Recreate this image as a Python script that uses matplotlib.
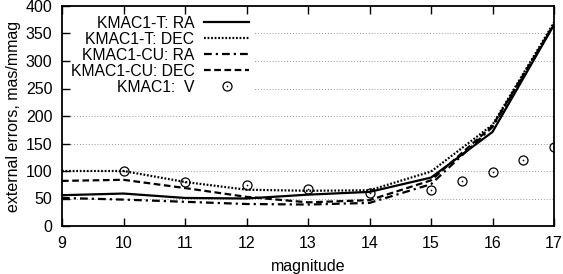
import numpy as np
import matplotlib
matplotlib.use('Agg')
from matplotlib import pyplot as plt
from matplotlib.legend_handler import HandlerTuple
from matplotlib.patches import Rectangle

plt.rcParams['font.family'] = ['Liberation Sans', 'DejaVu Sans']

mag = [9, 10, 11, 12, 13, 14, 15, 16, 17]
t_ra = [56, 59, 51, 50, 57, 62, 88, 171, 366]
t_dec = [100, 100, 80, 66, 64, 65, 99, 184, 370]
cu_ra = [51, 48, 44, 40, 39, 42, 76, 180, 366]
cu_dec = [82, 84, 69, 53, 43, 47, 83, 182, 367]

v_mag = [10, 11, 12, 13, 14, 15, 15.5, 16, 16.5, 17]
v_err = [100, 80, 74, 67, 60, 66, 82, 98, 120, 144]

labels = ['KMAC1-T: RA', 'KMAC1-T: DEC', 'KMAC1-CU: RA', 'KMAC1-CU: DEC', 'KMAC1:  V']

fig = plt.figure(figsize=(5.63, 2.74), dpi=100)
ax = fig.add_axes([62/563, 48/274, 492/563, 220/274])

l1, = ax.plot(mag, t_ra, color='black', lw=1.6)
l2, = ax.plot(mag, t_dec, color='black', lw=1.6, ls=(0, (0.8, 0.8)))
l3, = ax.plot(mag, cu_ra, color='black', lw=1.6, ls=(0, (3.5, 1.8, 1, 1.8)))
l4, = ax.plot(mag, cu_dec, color='black', lw=1.6, ls=(0, (3, 1.6)))
p1, = ax.plot(v_mag, v_err, ls='none', marker='o', ms=6.5, mfc='none', mec='black', mew=0.9)
p2, = ax.plot(v_mag, v_err, ls='none', marker='o', ms=1.2, mfc='black', mec='black', mew=0)

ax.set_xlim(9, 17)
ax.set_ylim(0, 400)
ax.set_xticks(range(9, 18))
ax.set_yticks(range(0, 401, 50))
for y in range(50, 400, 50):
    ax.axhline(y, color='#999999', lw=0.7, ls=(0, (1, 2)), zorder=0)

# white area behind the key, as gnuplot does
ax.add_patch(Rectangle((0, 0.595), 0.392, 0.405, transform=ax.transAxes,
                       fc='white', ec='none', zorder=0.5))

ax.tick_params(direction='in', length=6, width=1, top=True, right=False, labelsize=11.5, pad=7)
for s in ax.spines.values():
    s.set_linewidth(1.3)
    s.set_zorder(3)

ax.set_xlabel('magnitude', fontsize=11.5, labelpad=6)
ax.set_ylabel('external errors, mas/mmag', fontsize=11.5, labelpad=3)

leg = ax.legend([l1, l2, l3, l4, (p1, p2)], labels,
                handler_map={tuple: HandlerTuple(ndivide=1)},
                loc='upper right', bbox_to_anchor=(0.392, 0.98), markerfirst=False,
                fontsize=11.3, labelspacing=0.06, handlelength=2.9, handletextpad=0.6,
                borderaxespad=0, borderpad=0.35, frameon=False)
leg.set_zorder(1)

fig.savefig('out.png', dpi=100)
